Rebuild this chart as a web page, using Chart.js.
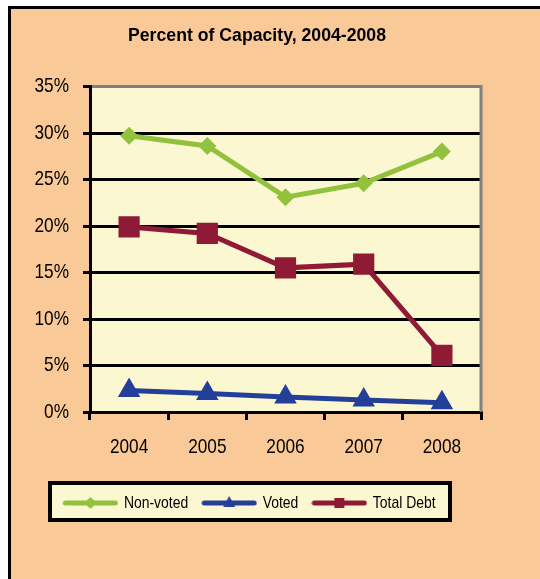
<!DOCTYPE html>
<html><head><meta charset="utf-8">
<script src="https://cdn.jsdelivr.net/npm/chart.js@4/dist/chart.umd.min.js"></script>
<style>
html,body{margin:0;padding:0;background:#fff;width:540px;height:579px;overflow:hidden}
#frame{position:absolute;left:8px;top:6px;width:600px;height:600px;background:#F9C998;border-left:3px solid #000;border-top:3px solid #000}
#wrap{position:absolute;left:0;top:0;width:540px;height:579px}
</style></head><body>
<div id="frame"></div>
<div id="wrap"><canvas id="c" width="540" height="579"></canvas></div>
<script>
const years = ['2004', '2005', '2006', '2007', '2008'];
const nonVoted = [29.7, 28.6, 23.1, 24.6, 28.0];
const voted = [2.3, 2.0, 1.6, 1.3, 1.0];
const totalDebt = [19.9, 19.2, 15.5, 15.9, 6.1];
const seriesNames = ['Non-voted', 'Voted', 'Total Debt'];
const chartTitle = 'Percent of Capacity, 2004-2008';

const FONT = "'Liberation Sans', Arial, sans-serif";
const GREEN = '#92C13E', BLUE = '#233F99', RED = '#8F1A36';
const PLOT_BG = '#FBF7D0';

// Narrow-font emulation: squeeze text horizontally around its anchor point.
const canvas = document.getElementById('c');
const ctx0 = canvas.getContext('2d');
const squeeze = (c) => /bold/.test(c.font) ? 0.93 : 0.82;
const origFill = ctx0.fillText.bind(ctx0);
const origMeasure = ctx0.measureText.bind(ctx0);
ctx0.fillText = function (text, x, y, maxWidth) {
  const k = squeeze(ctx0);
  ctx0.save();
  ctx0.translate(x, y);
  ctx0.scale(k, 1);
  if (maxWidth !== undefined) origFill(text, 0, 0, maxWidth / k); else origFill(text, 0, 0);
  ctx0.restore();
};
ctx0.measureText = function (text) {
  const m = origMeasure(text);
  const k = squeeze(ctx0);
  return { width: m.width * k, actualBoundingBoxAscent: m.actualBoundingBoxAscent,
    actualBoundingBoxDescent: m.actualBoundingBoxDescent,
    actualBoundingBoxLeft: m.actualBoundingBoxLeft * k, actualBoundingBoxRight: m.actualBoundingBoxRight * k };
};

function legendIcon(color, shape) {
  const c = document.createElement('canvas');
  c.width = 56; c.height = 20;
  const g = c.getContext('2d');
  g.strokeStyle = color; g.fillStyle = color; g.lineWidth = 5; g.lineCap = 'round';
  g.beginPath(); g.moveTo(3, 10); g.lineTo(53, 10); g.stroke();
  g.beginPath();
  if (shape === 'diamond') { g.moveTo(22, 10); g.lineTo(28, 4); g.lineTo(34, 10); g.lineTo(28, 16); }
  else if (shape === 'triangle') { g.moveTo(28, 3); g.lineTo(34, 14); g.lineTo(22, 14); }
  else { g.rect(23, 5, 10, 10); }
  g.closePath(); g.fill();
  return c;
}
const icons = [legendIcon(GREEN, 'diamond'), legendIcon(BLUE, 'triangle'), legendIcon(RED, 'square')];

const bgPlugin = {
  id: 'bg',
  afterLayout(chart) {
    if (chart.titleBlock) { chart.titleBlock.left += 16.5; chart.titleBlock.right += 16.5; }
    if (chart.legend) { chart.legend.left += 10; chart.legend.right += 10; }
  },
  beforeDraw(chart) {
    const {ctx, chartArea: a} = chart;
    ctx.save();
    ctx.fillStyle = PLOT_BG;
    ctx.fillRect(a.left, a.top, a.right - a.left, a.bottom - a.top);
    const bx = 50, by = 483, bw = 400, bh = 37;
    ctx.fillStyle = PLOT_BG;
    ctx.fillRect(bx, by, bw, bh);
    ctx.strokeStyle = '#000'; ctx.lineWidth = 4;
    ctx.strokeRect(bx, by, bw, bh);
    ctx.restore();
  },
  beforeDatasetsDraw(chart) {
    const {ctx, chartArea: a} = chart;
    ctx.save();
    ctx.strokeStyle = '#808080'; ctx.lineWidth = 3;
    ctx.beginPath(); ctx.moveTo(a.right, a.top - 1.5); ctx.lineTo(a.right, a.bottom); ctx.stroke();
    ctx.restore();
  }
};

const chart = new Chart(canvas, {
  type: 'line',
  data: {
    labels: years,
    datasets: [
      { label: seriesNames[0], data: nonVoted, borderColor: GREEN, backgroundColor: GREEN, borderWidth: 5,
        pointStyle: 'rectRot', pointRadius: 9, pointBorderWidth: 0, pointBackgroundColor: GREEN },
      { label: seriesNames[1], data: voted, borderColor: BLUE, backgroundColor: BLUE, borderWidth: 5,
        pointStyle: 'triangle', pointRadius: 13, pointBorderWidth: 0, pointBackgroundColor: BLUE },
      { label: seriesNames[2], data: totalDebt, borderColor: RED, backgroundColor: RED, borderWidth: 5,
        pointStyle: 'rect', pointRadius: 15, pointBorderWidth: 0, pointBackgroundColor: RED }
    ]
  },
  options: {
    responsive: false, animation: false, devicePixelRatio: 1,
    layout: { padding: { left: 0, right: 59, top: 0, bottom: 57.5 } },
    plugins: {
      tooltip: { enabled: false },
      title: { display: true, text: chartTitle, color: '#000',
        font: { family: FONT, size: 19, weight: 'bold' }, padding: { top: 24.1, bottom: 39.6 } },
      legend: { position: 'bottom',
        labels: { usePointStyle: true, pointStyleWidth: 50, color: '#000', padding: 16,
          font: { family: FONT, size: 17 },
          generateLabels(chart) {
            return chart.data.datasets.map((ds, i) => ({ text: ds.label, pointStyle: icons[i],
              fillStyle: ds.borderColor, strokeStyle: ds.borderColor, lineWidth: 0, datasetIndex: i, fontColor: '#000' }));
          } } }
    },
    scales: {
      x: { type: 'category', offset: true,
        afterFit(s) { s.height = 66.5; },
        grid: { offset: true, drawOnChartArea: false, drawTicks: true, tickLength: 8, color: '#000', lineWidth: 3 },
        border: { color: '#000', width: 3 },
        ticks: { color: '#000', font: { family: FONT, size: 21 }, padding: 15 } },
      y: { min: 0, max: 35,
        afterFit(s) { s.width = 90; },
        grid: { color: (c) => c.tick && c.tick.value === 35 ? '#808080' : '#000', tickColor: '#000',
          lineWidth: 3, tickLength: 7, drawTicks: true },
        border: { color: '#000', width: 3 },
        ticks: { stepSize: 5, color: '#000', font: { family: FONT, size: 21 }, padding: 14,
          callback: (v) => v + '%' } }
    }
  },
  plugins: [bgPlugin]
});
</script>
</body></html>
